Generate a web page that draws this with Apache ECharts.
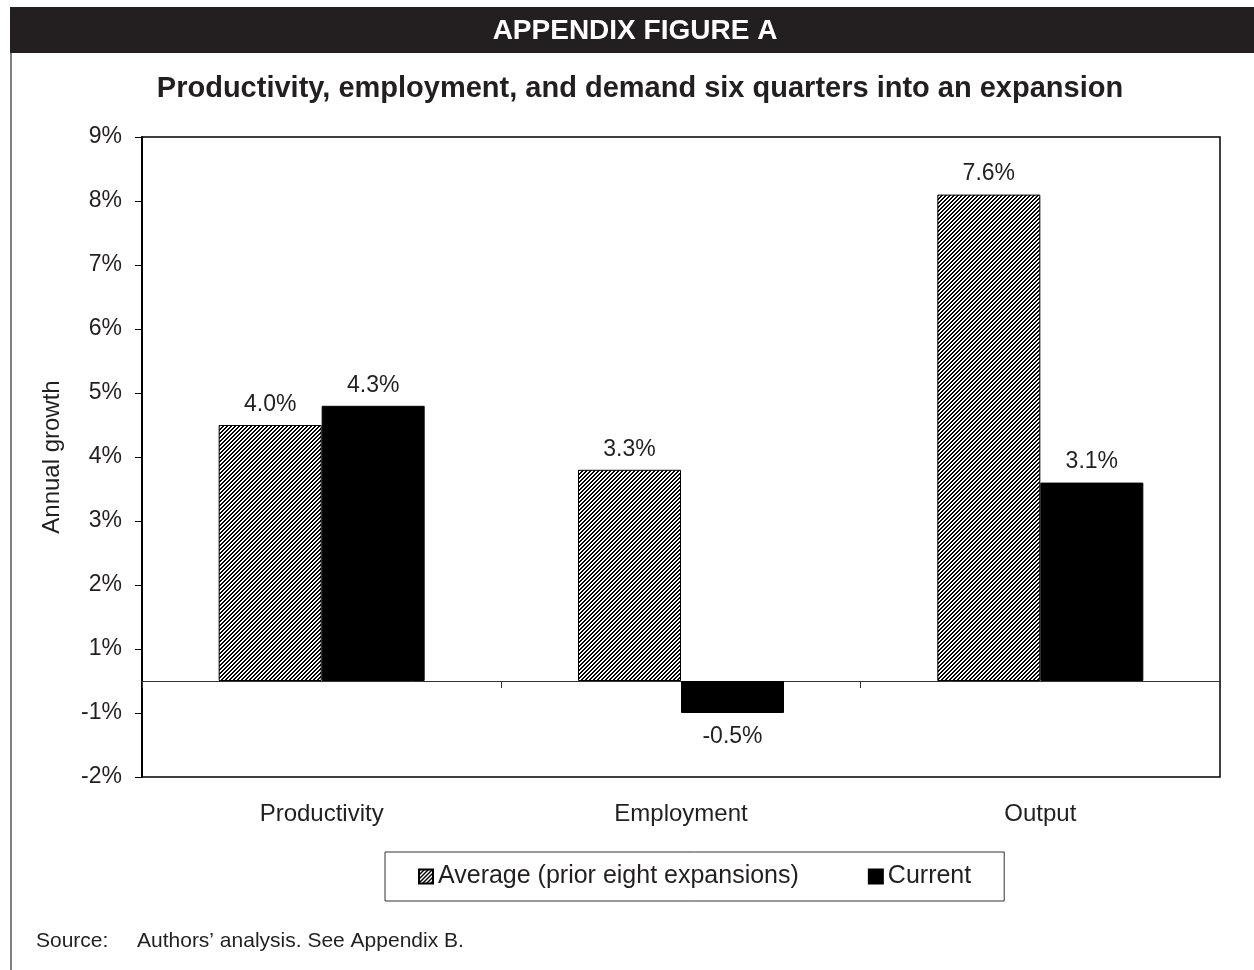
<!DOCTYPE html>
<html>
<head>
<meta charset="utf-8">
<script src="https://cdn.jsdelivr.net/npm/echarts@6/dist/echarts.min.js"></script>
<style>
  html, body { margin: 0; padding: 0; background: #fff; }
  #chart { width: 1254px; height: 970px; }
</style>
</head>
<body>
<div id="chart"></div>
<script>
// data
const categories = ['Productivity', 'Employment', 'Output']
const averageVals = [4.0, 3.3, 7.6]
const currentVals = [4.3, -0.5, 3.1]
// the source chart puts its tick labels half a step off the zero line
const tickValues = [-1.5, -0.5, 0.5, 1.5, 2.5, 3.5, 4.5, 5.5, 6.5, 7.5, 8.5]
const tickLabels = ['-2%', '-1%', '1%', '2%', '3%', '4%', '5%', '6%', '7%', '8%', '9%']

const FONT = '"Liberation Sans", Arial, sans-serif'
const INK = '#231f20'

// hatch pattern: "/" stripes, 4px period
function makeHatch() {
  const cv = document.createElement('canvas')
  cv.width = 4; cv.height = 4
  const ctx = cv.getContext('2d')
  ctx.fillStyle = '#fff'
  ctx.fillRect(0, 0, 4, 4)
  ctx.fillStyle = '#000'
  for (let x = 0; x < 4; x++) {
    for (let y = 0; y < 4; y++) {
      if ((x + y) % 4 < 2) ctx.fillRect(x, y, 1, 1)
    }
  }
  return { image: cv, repeat: 'repeat' }
}

function barData(vals) {
  return vals.map(v => v < 0 ? { value: v, label: { position: 'bottom', distance: 12 } } : { value: v })
}

const labelStyle = {
  show: true, position: 'top', distance: 9,
  fontFamily: FONT, fontSize: 23, color: INK,
  formatter: p => p.value.toFixed(1) + '%'
}

const chart = echarts.init(document.getElementById('chart'))
chart.setOption({
  animation: false,
  backgroundColor: '#fff',
  textStyle: { fontFamily: FONT, color: INK },
  graphic: [
    { type: 'rect', shape: { x: 10, y: 7, width: 1244, height: 46 }, style: { fill: INK } },
    { type: 'line', shape: { x1: 11, y1: 53, x2: 11, y2: 970 }, style: { stroke: '#555', lineWidth: 1.5 } },
    { type: 'text', x: 635, y: 31, style: { text: 'APPENDIX FIGURE A', fill: '#fff', font: 'bold 28px ' + FONT, textAlign: 'center', textVerticalAlign: 'middle' } },
    { type: 'text', x: 640, y: 89, style: { text: 'Productivity, employment, and demand six quarters into an expansion', fill: INK, font: 'bold 29px ' + FONT, textAlign: 'center', textVerticalAlign: 'middle' } },
    { type: 'text', x: 36, y: 941, style: { text: 'Source:', fill: INK, font: '21px ' + FONT, textVerticalAlign: 'middle' } },
    { type: 'text', x: 137, y: 941, style: { text: 'Authors\u2019 analysis. See Appendix B.', fill: INK, font: '21px ' + FONT, textVerticalAlign: 'middle' } }
  ],
  grid: {
    left: 142, right: 34, top: 137, bottom: 193,
    show: true, borderColor: '#000', borderWidth: 1.5
  },
  legend: {
    left: 385, top: 852,
    padding: [12, 33, 12, 33],
    itemGap: 69, itemWidth: 14, itemHeight: 14,
    borderColor: '#333', borderWidth: 1,
    textStyle: { fontFamily: FONT, fontSize: 25, color: INK },
    data: [
      { name: 'Average (prior eight expansions)', icon: 'rect' },
      { name: 'Current', icon: 'rect' }
    ]
  },
  xAxis: {
    type: 'category',
    data: categories,
    axisLine: { onZero: true, lineStyle: { color: '#333', width: 1 } },
    axisTick: { show: true, length: 7, lineStyle: { color: '#333' } },
    axisLabel: { margin: 25, fontSize: 24, color: INK, fontFamily: FONT },
    splitLine: { show: false }
  },
  yAxis: {
    type: 'value',
    min: -1.5, max: 8.5,
    name: 'Annual growth',
    nameLocation: 'middle',
    nameGap: 78,
    nameRotate: 90,
    nameTextStyle: { fontSize: 24, color: INK, fontFamily: FONT },
    axisLine: { show: true, lineStyle: { color: '#000', width: 2 } },
    axisTick: { show: true, length: 7, customValues: tickValues, lineStyle: { color: '#000' } },
    axisLabel: {
      margin: 20, fontSize: 23, color: INK, fontFamily: FONT,
      customValues: tickValues,
      formatter: v => tickLabels[tickValues.findIndex(t => Math.abs(t - v) < 1e-6)]
    },
    splitLine: { show: false }
  },
  series: [
    {
      name: 'Average (prior eight expansions)',
      type: 'bar',
      data: barData(averageVals),
      barWidth: 103,
      barGap: '0%',
      itemStyle: { color: makeHatch(), borderColor: '#000', borderWidth: 1 },
      label: labelStyle
    },
    {
      name: 'Current',
      type: 'bar',
      data: barData(currentVals),
      barWidth: 103,
      barGap: '0%',
      itemStyle: { color: '#000', borderColor: '#000', borderWidth: 1 },
      label: labelStyle
    }
  ]
})
</script>
</body>
</html>
